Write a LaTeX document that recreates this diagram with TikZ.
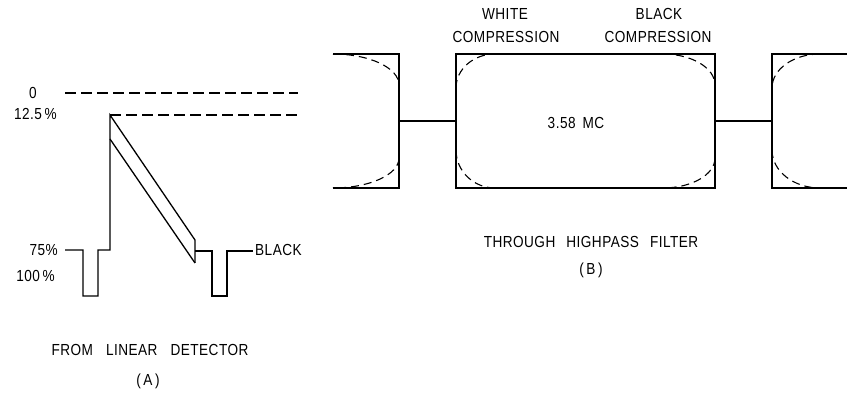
\documentclass[tikz,border=0pt]{standalone}
\usepackage{fontspec}
\setmainfont{Liberation Sans}
\newfontfamily\lettering[FakeStretch=0.85,LetterSpace=3]{Liberation Sans}
\begin{document}
\begin{tikzpicture}[x=1pt,y=-1pt,
  lbl/.style={inner sep=0pt, text height=11.5pt, text depth=0pt, font=\lettering\fontsize{16}{18}\selectfont},
  wave/.style={line width=1.3pt, line join=miter},
  refline/.style={line width=1.1pt, dash pattern=on 11pt off 5pt},
  boxline/.style={line width=1.3pt},
  comp/.style={line width=1.1pt, dash pattern=on 8pt off 5pt}]
\useasboundingbox (0,0) rectangle (847,395);

% ---------- (A) waveform ----------
\node[lbl] (zero) at (33,93) {0};
\node[lbl, anchor=east] (p125) at (57,114) {12.5\,\%};
\node[lbl, anchor=east] (p75) at (58,250) {75\%};
\node[lbl, anchor=east] (p100) at (55,276) {100\,\%};

\coordinate (z0) at (65,93);
\coordinate (z1) at (298,93);
\coordinate (w0) at (110,115);
\coordinate (w1) at (298,115);
\draw[refline] (z0) -- (z1);
\draw[refline] (w0) -- (w1);

\draw[wave] (65,250) -- (83,250) -- (83,296) -- (98,296) -- (98,250) -- (110,250)
  -- (110,115) -- (195,240) -- (195,263);
\draw[wave] (110,139) -- (195,263);
\draw[wave] (195,251) -- (212,251) -- (212,296) -- (227,296) -- (227,251) -- (253,251);
\node[lbl, anchor=west] (black) at (255,250) {BLACK};

\node[lbl] (capA) at (150,350) {FROM\hspace{13pt}LINEAR\hspace{13pt}DETECTOR};
\node[lbl] (subA) at (148,380) {(\,A\,)};

% ---------- (B) ----------
\node[draw, boxline, minimum width=259pt, minimum height=134pt, inner sep=0pt] (mid) at (585.5,121) {};
\node[lbl] (freq) at (576,123) {3.58\hspace{7pt}MC};

\draw[boxline] (333,54) -- (399,54) -- (399,188) -- (333,188);
\coordinate (lbox) at (399,121);
\draw[boxline] (847,54) -- (772,54) -- (772,188) -- (847,188);
\coordinate (rbox) at (772,121);

\draw[boxline] (lbox) -- (mid.west);
\draw[boxline] (mid.east) -- (rbox);

% dashed compressed corners
\draw[comp] (333,54) .. controls (369.5,54) and (399,67.9) .. (399,85);
\draw[comp] (399,158) .. controls (399,174.6) and (369.5,188) .. (333,188);

\draw[comp] (456,88) .. controls (456,69.2) and (473.5,54) .. (495,54);
\draw[comp] (663,54) .. controls (691.7,54) and (715,67.9) .. (715,85);
\draw[comp] (715,158) .. controls (715,174.6) and (691.7,188) .. (663,188);
\draw[comp] (495,188) .. controls (473.5,188) and (456,171) .. (456,150);

\draw[comp] (820,54) .. controls (793.5,54) and (772,69.2) .. (772,88);
\draw[comp] (772,150) .. controls (772,171) and (793.5,188) .. (820,188);

\node[lbl] (white1) at (505,14) {WHITE};
\node[lbl] (white2) at (506,37) {COMPRESSION};
\node[lbl] (black1) at (659,14) {BLACK};
\node[lbl] (black2) at (658,37) {COMPRESSION};

\node[lbl] (capB) at (591,242) {THROUGH\hspace{11pt}HIGHPASS\hspace{11pt}FILTER};
\node[lbl] (subB) at (591,269) {(\,B\,)};
\end{tikzpicture}
\end{document}
